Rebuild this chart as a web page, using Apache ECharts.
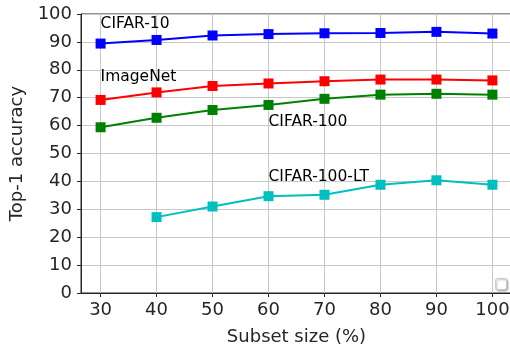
<!DOCTYPE html>
<html>
<head>
<meta charset="utf-8">
<script src="https://cdn.jsdelivr.net/npm/echarts@6/dist/echarts.min.js"></script>
<style>html,body{margin:0;padding:0;background:#fff}#c{width:510px;height:348px}</style>
</head>
<body>
<div id="c"></div>
<script>
const subsetSizes = [30, 40, 50, 60, 70, 80, 90, 100];
const cifar10 = [89.4, 90.7, 92.3, 92.8, 93.1, 93.2, 93.6, 93.0];
const imagenet = [69.2, 71.9, 74.2, 75.1, 75.9, 76.5, 76.5, 76.2];
const cifar100 = [59.4, 62.8, 65.6, 67.4, 69.6, 71.1, 71.4, 71.1];
const cifar100lt = [null, 27.2, 31.0, 34.7, 35.2, 38.8, 40.4, 38.8];
const xTicks = [30, 40, 50, 60, 70, 80, 90, 100];
const annotations = [
  {name: 'CIFAR-10', x: 30, y: 95},
  {name: 'ImageNet', x: 30, y: 76},
  {name: 'CIFAR-100', x: 60, y: 60},
  {name: 'CIFAR-100-LT', x: 60, y: 40}
];

const font = 'DejaVu Sans';
const pair = (arr) => subsetSizes.map((x, i) => [x, arr[i]]);
const lineSeries = (name, arr, color) => ({
  name, type: 'line', data: pair(arr), connectNulls: false,
  symbol: 'rect', symbolSize: 10,
  itemStyle: {color}, lineStyle: {color, width: 2},
  z: 5, animation: false
});

const chart = echarts.init(document.getElementById('c'), null, {renderer: 'canvas'});
chart.setOption({
  animation: false,
  backgroundColor: '#fff',
  grid: {left: 81, top: 14, right: -2, bottom: 55, show: true, borderColor: '#262626', borderWidth: 1, backgroundColor: 'transparent', containLabel: false, outerBoundsMode: 'none'},
  xAxis: {
    type: 'value', min: 26.5, max: 103.5,
    name: 'Subset size (%)', nameLocation: 'middle', nameGap: 35,
    nameTextStyle: {fontFamily: font, fontSize: 18, color: '#262626'},
    axisLine: {show: true, lineStyle: {color: '#262626', width: 1}},
    axisTick: {show: true, length: 4, lineStyle: {color: '#262626'}, customValues: xTicks},
    axisLabel: {fontFamily: font, fontSize: 18, color: '#262626', margin: 8, customValues: xTicks},
    splitLine: {show: false}
  },
  yAxis: {
    type: 'value', min: 0, max: 100, interval: 10,
    name: 'Top-1 accuracy', nameLocation: 'middle', nameGap: 52, nameRotate: 90,
    nameTextStyle: {fontFamily: font, fontSize: 18, color: '#262626'},
    axisLine: {show: true, lineStyle: {color: '#262626', width: 1}},
    axisTick: {show: true, length: 4, lineStyle: {color: '#262626'}},
    axisLabel: {fontFamily: font, fontSize: 18, color: '#262626', margin: 9},
    splitLine: {show: true, lineStyle: {color: '#c8c8c8', width: 1}}
  },
  series: [
    {
      type: 'line', data: [], silent: true,
      markLine: {
        silent: true, symbol: 'none', animation: false,
        label: {show: false},
        lineStyle: {color: '#c8c8c8', width: 1, type: 'solid'},
        data: xTicks.map(v => ({xAxis: v}))
      }
    },
    lineSeries('CIFAR-10', cifar10, '#0000ff'),
    lineSeries('ImageNet', imagenet, '#ff0000'),
    lineSeries('CIFAR-100', cifar100, '#008000'),
    lineSeries('CIFAR-100-LT', cifar100lt, '#00bfbf'),
    {
      type: 'scatter', symbolSize: 0, silent: true, z: 10,
      itemStyle: {opacity: 1, color: '#000'},
      data: annotations.map(a => ({value: [a.x, a.y], name: a.name})),
      label: {
        show: true, position: [0, 0], align: 'left', verticalAlign: 'bottom',
        offset: [0, 4], opacity: 1,
        formatter: p => p.name,
        fontFamily: font, fontSize: 15.5, color: '#000'
      }
    }
  ],
  graphic: [{
    type: 'rect', left: 495, top: 278,
    shape: {width: 11, height: 11, r: 2},
    style: {fill: '#fff', stroke: '#cccccc', lineWidth: 1, shadowBlur: 2, shadowOffsetX: 1, shadowOffsetY: 1, shadowColor: 'rgba(0,0,0,0.35)'}
  }]
});
</script>
</body>
</html>
